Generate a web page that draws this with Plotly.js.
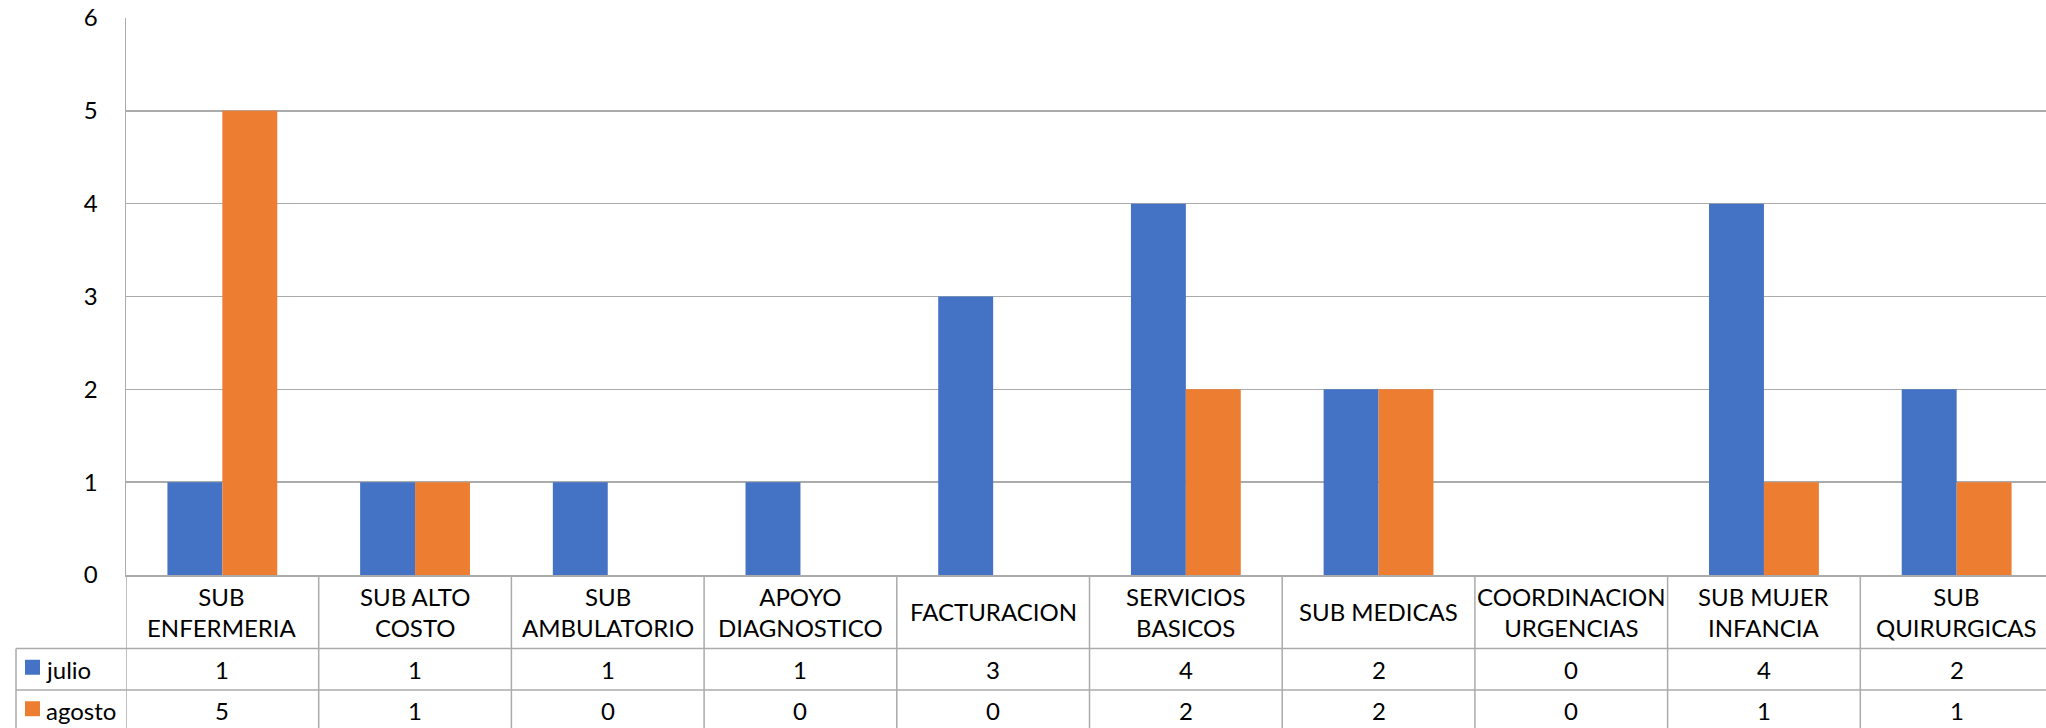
<!DOCTYPE html>
<html>
<head>
<meta charset="utf-8">
<script src="https://cdn.plot.ly/plotly-3.0.1.min.js"></script>
<style>
  html, body { margin: 0; padding: 0; background: #fff; }
  #chart { width: 2046px; height: 728px; }
</style>
</head>
<body>
<div id="chart"></div>
<script>
// Areas (two-line labels as shown in the data table)
const categories = [
  "SUB<br>ENFERMERIA", "SUB ALTO<br>COSTO", "SUB<br>AMBULATORIO", "APOYO<br>DIAGNOSTICO",
  "FACTURACION", "SERVICIOS<br>BASICOS", "SUB MEDICAS", "COORDINACION<br>URGENCIAS",
  "SUB MUJER<br>INFANCIA", "SUB<br>QUIRURGICAS"
];
const seriesNames = ["julio", "agosto"];
const julio  = [1, 1, 1, 1, 3, 4, 2, 0, 4, 2];
const agosto = [5, 1, 0, 0, 0, 2, 2, 0, 1, 1];
const yTicks = [0, 1, 2, 3, 4, 5, 6];

const colors = ["#4472C4", "#ED7D31"];
const FONT = "Lato, 'Open Sans', sans-serif";
const FS = 24;
const GRID = "#ababab";

// Page geometry (pixels)
const W = 2046, H = 728;
const M = { l: 126, r: 0, t: 18, b: 152.5 };
const plotW = W - M.l - M.r, plotH = H - M.t - M.b;
const py = p => -(p - (H - M.b)) / plotH;       // pixel y -> paper y
const px = p => (p - M.l) / plotW;              // pixel x -> paper x

const idx = categories.map((_, i) => i);
const values = [julio, agosto];

const traces = values.map((v, s) => ({
  type: "bar",
  name: seriesNames[s],
  x: idx,
  y: v,
  marker: { color: colors[s], line: { width: 0 } },
  hoverinfo: "skip"
}));

// Data table rows (pixel y bounds)
const rowLabelTop = H - M.b, rowLabelBot = 649, row1Bot = 690.7, row2Bot = 732;
const rowCenters = [(rowLabelBot + row1Bot) / 2, (row1Bot + row2Bot) / 2];

const shapes = [];
const line = { color: GRID, width: 1.5 };
// horizontal table lines
[rowLabelBot, row1Bot].forEach(yp => shapes.push({
  type: "line", xref: "paper", yref: "paper",
  x0: px(16), x1: 1.01, y0: py(yp), y1: py(yp), line
}));
// vertical dividers between categories
for (let k = 0; k <= categories.length; k++) {
  shapes.push({
    type: "line", xref: "x", yref: "paper",
    x0: k - 0.5, x1: k - 0.5, y0: 0, y1: py(row2Bot), line
  });
}
// outer left edge of the legend column
shapes.push({
  type: "line", xref: "paper", yref: "paper",
  x0: px(16), x1: px(16), y0: py(rowLabelBot), y1: py(row2Bot), line
});
// legend keys
seriesNames.forEach((_, s) => {
  const c = rowCenters[s] - 2;
  shapes.push({
    type: "rect", xref: "paper", yref: "paper",
    x0: px(25), x1: px(40), y0: py(c - 7.5), y1: py(c + 7.5),
    fillcolor: colors[s], line: { width: 0 }
  });
});

const annotations = [];
const tf = { family: FONT, size: FS, color: "#000" };
// category labels
categories.forEach((c, i) => annotations.push({
  x: i, xref: "x", y: py((rowLabelTop + rowLabelBot) / 2), yref: "paper",
  text: c, showarrow: false, xanchor: "center", yanchor: "middle",
  align: "center", font: tf
}));
// series names and values
seriesNames.forEach((n, s) => {
  annotations.push({
    x: px(44), xref: "paper", y: py(rowCenters[s]), yref: "paper",
    text: n, showarrow: false, xanchor: "left", yanchor: "middle", font: tf
  });
  values[s].forEach((v, i) => annotations.push({
    x: i, xref: "x", y: py(rowCenters[s]), yref: "paper",
    text: String(v), showarrow: false, xanchor: "center", yanchor: "middle", font: tf
  }));
});

const layout = {
  width: W, height: H,
  margin: M,
  paper_bgcolor: "#fff", plot_bgcolor: "#fff",
  showlegend: false,
  barmode: "group",
  bargap: 0.43, bargroupgap: 0,
  font: tf,
  xaxis: {
    range: [-0.5, -0.5 + plotW / 192.7],
    tickvals: idx, showticklabels: false, ticks: "",
    showgrid: false, zeroline: false,
    showline: true, linecolor: GRID, linewidth: 1.5
  },
  yaxis: {
    range: [0, 6], tickvals: yTicks, ticktext: yTicks.map(String),
    showgrid: true, gridcolor: GRID, gridwidth: 1.5,
    zeroline: false, showline: true, linecolor: GRID, linewidth: 1.5,
    ticks: "", ticklabelstandoff: 22, tickfont: tf
  },
  shapes, annotations
};

Plotly.newPlot("chart", traces, layout, { staticPlot: true, displayModeBar: false });
</script>
</body>
</html>
